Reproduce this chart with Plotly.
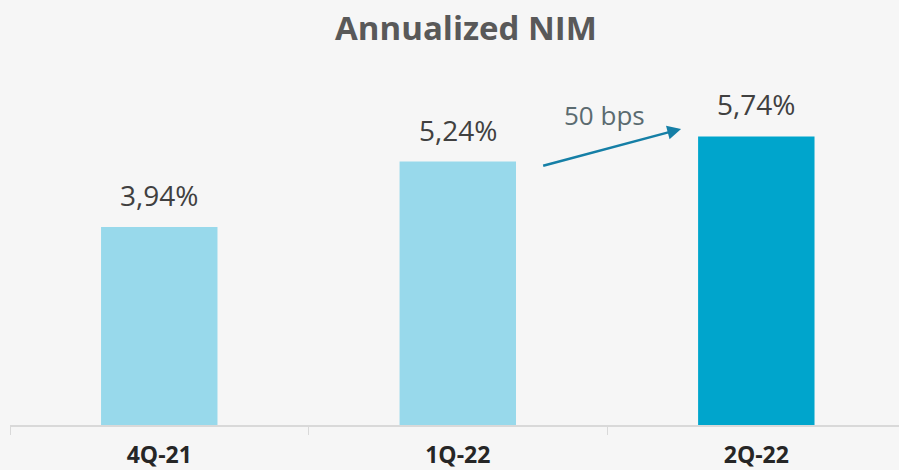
import plotly.graph_objects as go

quarters = ["4Q-21", "1Q-22", "2Q-22"]
nim = [3.94, 5.24, 5.74]
bar_colors = ["#98d9eb", "#98d9eb", "#00a5cc"]
labels = [f"{v:.2f}".replace(".", ",") + "%" for v in nim]

fig = go.Figure()
fig.add_trace(go.Bar(
    x=quarters,
    y=nim,
    marker=dict(color=bar_colors, line=dict(width=0)),
    width=0.39,
    hoverinfo="skip",
))

# value labels sit a little higher above the bars than plotly's outside text
for q, v, t in zip(quarters, nim, labels):
    fig.add_annotation(
        x=q, y=v, text=t, showarrow=False,
        yanchor="bottom", yshift=11,
        font=dict(family="Open Sans", size=28, color="#404040"),
    )

# arrow showing the change between the last two quarters
fig.add_annotation(
    x=1.748, y=5.89, ax=1.281, ay=5.15,
    xref="x", yref="y", axref="x", ayref="y",
    showarrow=True, arrowhead=2, arrowsize=1.1, arrowwidth=2.5,
    arrowcolor="#157fa6", text="",
)
fig.add_annotation(
    x=1.493, y=6.17, xref="x", yref="y",
    text="50 bps", showarrow=False,
    font=dict(family="Open Sans", size=26, color="#5b6b70"),
)

fig.update_layout(
    width=899, height=470,
    margin=dict(l=10, r=0, t=45, b=45),
    paper_bgcolor="#f6f6f6",
    plot_bgcolor="#f6f6f6",
    showlegend=False,
    title=dict(
        text="<b>Annualized NIM</b>",
        x=466 / 899, xanchor="center", y=1 - 28 / 470, yanchor="middle",
        font=dict(family="Open Sans", size=33, color="#595959"),
    ),
)
fig.update_xaxes(
    range=[-0.5, 2.478],
    showline=True, linecolor="#d9d9d9", linewidth=2,
    ticks="outside", tickson="boundaries", ticklen=8, tickcolor="#d9d9d9",
    tickfont=dict(family="Open Sans", size=23, color="#262626"),
    tickprefix="<b>", ticksuffix="</b>",
    ticklabelstandoff=8,
    showgrid=False,
)
fig.update_yaxes(range=[0, 7.56], visible=False, showgrid=False)

fig.write_html(
    "out.html",
    config={"displayModeBar": False},
    post_script="document.body.style.margin='0';",
)
